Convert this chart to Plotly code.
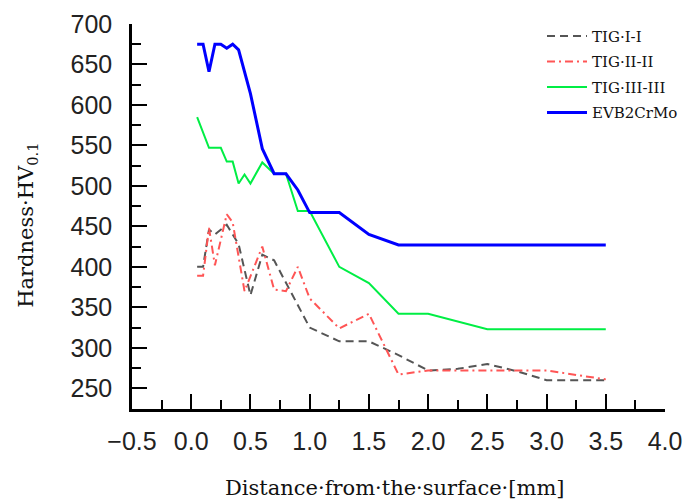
import plotly.graph_objects as go

# Microhardness profiles vs. distance from the surface
x_tig1 = [0.05, 0.1, 0.15, 0.2, 0.3, 0.4, 0.5, 0.6, 0.7, 1.0, 1.25, 1.5, 1.75, 2.0, 2.25, 2.5, 2.75, 3.0, 3.5]
hv_tig1 = [400, 400, 446, 440, 452, 428, 365, 415, 408, 325, 308, 308, 291, 272, 274, 280, 271, 260, 260]

x_tig2 = [0.05, 0.1, 0.15, 0.2, 0.3, 0.35, 0.45, 0.6, 0.7, 0.8, 0.9, 1.0, 1.25, 1.5, 1.75, 2.0, 2.5, 3.0, 3.5]
hv_tig2 = [389, 389, 448, 402, 465, 455, 370, 425, 372, 370, 400, 361, 324, 342, 267, 272, 272, 272, 261]

x_tig3 = [0.05, 0.15, 0.25, 0.3, 0.35, 0.4, 0.45, 0.5, 0.6, 0.7, 0.8, 0.9, 1.0, 1.25, 1.5, 1.75, 2.0, 2.5, 3.0, 3.5]
hv_tig3 = [585, 547, 547, 530, 530, 503, 514, 503, 529, 515, 515, 469, 469, 400, 380, 342, 342, 323, 323, 323]

x_evb = [0.05, 0.1, 0.15, 0.2, 0.25, 0.3, 0.35, 0.4, 0.5, 0.6, 0.7, 0.8, 0.9, 1.0, 1.25, 1.5, 1.75, 2.0, 2.5, 3.0, 3.5]
hv_evb = [675, 675, 641, 675, 675, 670, 675, 668, 614, 546, 515, 515, 495, 467, 467, 440, 427, 427, 427, 427, 427]

series_names = ["TIG·I-I", "TIG·II-II", "TIG·III-III", "EVB2CrMo"]

x_ticks = [-0.5, 0.0, 0.5, 1.0, 1.5, 2.0, 2.5, 3.0, 3.5, 4.0]
y_ticks = [250, 300, 350, 400, 450, 500, 550, 600, 650, 700]

SERIF = "DejaVu Serif"
SANS = "Liberation Sans, Arial, sans-serif"

fig = go.Figure()
fig.add_trace(go.Scatter(x=x_tig1, y=hv_tig1, mode="lines", name=series_names[0],
                         legendgroup="a",
                         line=dict(color="#555555", width=2, dash="8px,5px")))
fig.add_trace(go.Scatter(x=x_tig2, y=hv_tig2, mode="lines", name=series_names[1],
                         legendgroup="b",
                         line=dict(color="#ff5555", width=2, dash="8px,4px,2px,4px")))
fig.add_trace(go.Scatter(x=x_tig3, y=hv_tig3, mode="lines", name=series_names[2],
                         legendgroup="c",
                         line=dict(color="#00ee44", width=2)))
fig.add_trace(go.Scatter(x=x_evb, y=hv_evb, mode="lines", name=series_names[3],
                         legendgroup="d",
                         line=dict(color="#0000ff", width=3)))

axis_common = dict(
    showgrid=False, zeroline=False, showline=True, linecolor="black", linewidth=2.5,
    ticks="inside", ticklen=15, tickwidth=2, tickcolor="black",
    tickfont=dict(family=SANS, size=25, color="#222222"),
)

fig.update_xaxes(
    range=[-0.5, 4.0], tickvals=x_ticks, tickformat=".1f", ticklabelstandoff=8,
    minor=dict(ticks="inside", ticklen=9, tickwidth=2, tickcolor="black", dtick=0.25, tick0=0),
    **axis_common,
)
fig.update_yaxes(
    range=[224.4, 700], tickvals=y_ticks, ticklabelstandoff=12,
    minor=dict(ticks="inside", ticklen=9, tickwidth=2, tickcolor="black", dtick=25, tick0=0),
    **axis_common,
)

fig.add_annotation(
    text="Hardness·HV<sub>0.1</sub>", textangle=-90, showarrow=False,
    xref="paper", yref="paper", x=(27 - 132) / 533, y=(409 - 226) / 384.7,
    xanchor="center", yanchor="middle",
    font=dict(family=SERIF, size=21, color="#111111"),
)
fig.add_annotation(
    text="Distance·from·the·surface·[mm]", showarrow=False,
    xref="paper", yref="paper", x=(395 - 132) / 533, y=(409 - 488) / 384.7,
    xanchor="center", yanchor="middle",
    font=dict(family=SERIF, size=21, color="#111111"),
)

fig.update_layout(
    width=689, height=500,
    margin=dict(l=132, r=24, t=24, b=91, pad=0, autoexpand=False),
    plot_bgcolor="white", paper_bgcolor="white",
    showlegend=True,
    legend=dict(
        x=(542 - 132) / 533, y=(409 - 20) / 384.7, xanchor="left", yanchor="top",
        bgcolor="rgba(0,0,0,0)", borderwidth=0,
        font=dict(family=SERIF, size=15, color="#111111"),
        tracegroupgap=3, itemwidth=40,
    ),
)

fig.write_html("out.html")
